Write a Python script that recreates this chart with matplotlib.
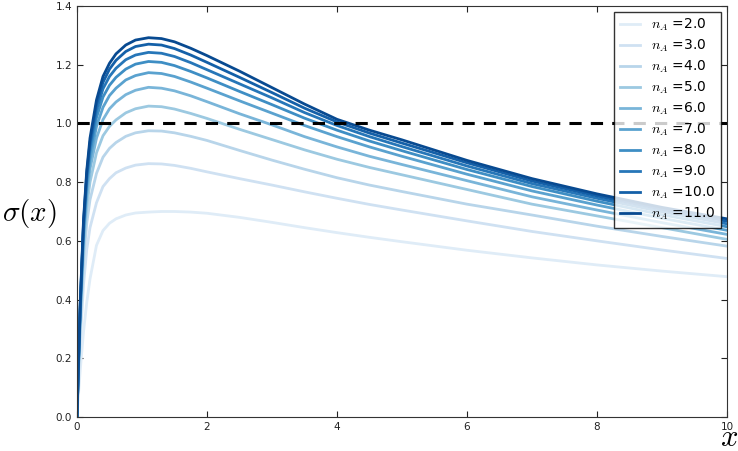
import matplotlib
matplotlib.use("Agg")
import matplotlib.pyplot as plt

plt.rcParams["mathtext.fontset"] = "cm"

x_vals = [0, 0.02, 0.05, 0.1, 0.15, 0.2, 0.3, 0.4, 0.5, 0.6, 0.75, 0.9,
          1.1, 1.3, 1.5, 1.75, 2, 2.5, 3, 3.5, 4, 4.5, 5, 6, 7, 8, 9, 10]

n_A = [2.0, 3.0, 4.0, 5.0, 6.0, 7.0, 8.0, 9.0, 10.0, 11.0]

sigma_n2 = [0, 0.07, 0.16, 0.29, 0.39, 0.47, 0.585, 0.635, 0.66, 0.675, 0.688, 0.695,
            0.698, 0.700, 0.700, 0.698, 0.694, 0.680, 0.663, 0.645, 0.628, 0.612, 0.597, 0.568, 0.542, 0.518, 0.497, 0.478]
sigma_n3 = [0, 0.12, 0.26, 0.45, 0.57, 0.645, 0.73, 0.785, 0.812, 0.832, 0.848, 0.858,
            0.863, 0.862, 0.857, 0.847, 0.835, 0.812, 0.790, 0.767, 0.745, 0.724, 0.705, 0.668, 0.632, 0.600, 0.569, 0.540]
sigma_n4 = [0, 0.14, 0.30, 0.53, 0.66, 0.74, 0.83, 0.885, 0.915, 0.935, 0.956, 0.968,
            0.975, 0.974, 0.968, 0.956, 0.942, 0.908, 0.875, 0.844, 0.815, 0.790, 0.768, 0.725, 0.688, 0.650, 0.615, 0.582]
sigma_n5 = [0, 0.15, 0.33, 0.57, 0.715, 0.80, 0.90, 0.958, 0.99, 1.012, 1.036, 1.05,
            1.059, 1.057, 1.049, 1.034, 1.017, 0.980, 0.945, 0.910, 0.878, 0.850, 0.825, 0.775, 0.725, 0.685, 0.645, 0.605]
sigma_n6 = [0, 0.155, 0.345, 0.60, 0.75, 0.845, 0.95, 1.013, 1.05, 1.073, 1.098, 1.113,
            1.123, 1.120, 1.111, 1.094, 1.074, 1.033, 0.995, 0.955, 0.920, 0.888, 0.860, 0.805, 0.750, 0.705, 0.662, 0.622]
sigma_n7 = [0, 0.16, 0.36, 0.62, 0.78, 0.875, 0.99, 1.055, 1.095, 1.12, 1.148, 1.163,
            1.173, 1.170, 1.160, 1.141, 1.120, 1.077, 1.035, 0.993, 0.955, 0.920, 0.888, 0.827, 0.770, 0.722, 0.677, 0.636]
sigma_n8 = [0, 0.16, 0.37, 0.635, 0.80, 0.90, 1.02, 1.09, 1.13, 1.157, 1.185, 1.202,
            1.211, 1.208, 1.197, 1.177, 1.155, 1.109, 1.064, 1.018, 0.977, 0.940, 0.907, 0.843, 0.785, 0.735, 0.689, 0.648]
sigma_n9 = [0, 0.165, 0.38, 0.65, 0.815, 0.92, 1.045, 1.118, 1.16, 1.188, 1.217, 1.233,
            1.242, 1.239, 1.228, 1.207, 1.183, 1.135, 1.087, 1.037, 0.993, 0.955, 0.921, 0.855, 0.795, 0.745, 0.699, 0.658]
sigma_n10 = [0, 0.17, 0.385, 0.66, 0.83, 0.935, 1.065, 1.14, 1.185, 1.215, 1.245, 1.262,
             1.270, 1.267, 1.255, 1.233, 1.208, 1.157, 1.105, 1.052, 1.005, 0.967, 0.933, 0.866, 0.804, 0.753, 0.707, 0.667]
sigma_n11 = [0, 0.17, 0.39, 0.67, 0.84, 0.95, 1.08, 1.16, 1.205, 1.237, 1.267, 1.284,
             1.292, 1.289, 1.278, 1.256, 1.231, 1.178, 1.122, 1.066, 1.014, 0.977, 0.944, 0.874, 0.812, 0.760, 0.714, 0.675]

all_sigma = [sigma_n2, sigma_n3, sigma_n4, sigma_n5, sigma_n6,
             sigma_n7, sigma_n8, sigma_n9, sigma_n10, sigma_n11]

x_ticks = [0, 2, 4, 6, 8, 10]
y_ticks = [0.0, 0.2, 0.4, 0.6, 0.8, 1.0, 1.2, 1.4]

fig = plt.figure(figsize=(7.38, 4.51), dpi=100)
ax = fig.add_axes([77/738, 1 - 417/451, 650/738, 411/451])

cmap = plt.get_cmap("Blues")
for i, (n, s) in enumerate(zip(n_A, all_sigma)):
    c = cmap(0.12 + 0.78 * i / (len(n_A) - 1))
    ax.plot(x_vals, s, color=c, lw=2.0, label=r"$n_A$ =" + "%.1f" % n,
            solid_joinstyle="round")

ax.axhline(1.0, color="black", ls="--", lw=2.2, dashes=(4, 3))

ax.set_xlim(0, 10)
ax.set_ylim(0, 1.4)
ax.set_xticks(x_ticks)
ax.set_yticks(y_ticks)
ax.set_xticklabels([str(t) for t in x_ticks])
ax.set_yticklabels(["%.1f" % t for t in y_ticks])
ax.tick_params(direction="in", labelsize=7.5, length=4, top=True, right=True,
               colors="#222222")
for sp in ax.spines.values():
    sp.set_color("#333333")

fig.text(2/738, 1 - 213/451, r"$\sigma(x)$", fontsize=21, va="center", ha="left")
fig.text(729/738, 1 - 438/451, r"$x$", fontsize=22, va="center", ha="center")

leg = ax.legend(loc="upper right", fontsize=10, frameon=True, fancybox=False,
                handlelength=1.5, handletextpad=0.8, borderaxespad=0.4,
                labelspacing=0.33)
leg.get_frame().set_edgecolor("black")

fig.savefig("out.png", dpi=100)
